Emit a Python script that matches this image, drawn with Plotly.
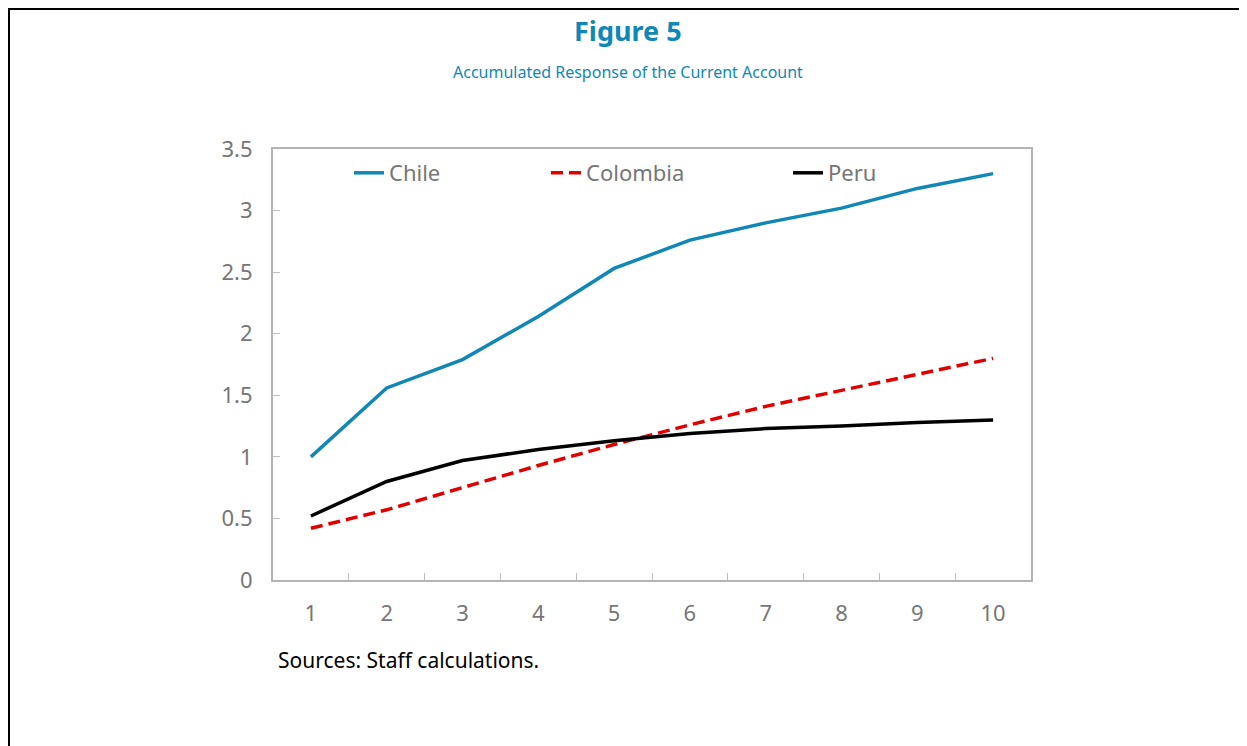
import plotly.graph_objects as go

periods = [1, 2, 3, 4, 5, 6, 7, 8, 9, 10]
chile = [1.00, 1.56, 1.79, 2.14, 2.53, 2.76, 2.90, 3.02, 3.18, 3.30]
colombia = [0.42, 0.57, 0.75, 0.93, 1.10, 1.26, 1.41, 1.54, 1.67, 1.80]
peru = [0.52, 0.80, 0.97, 1.06, 1.13, 1.19, 1.23, 1.25, 1.28, 1.30]
y_ticks = [0, 0.5, 1, 1.5, 2, 2.5, 3, 3.5]
y_tick_labels = ["0", "0.5", "1", "1.5", "2", "2.5", "3", "3.5"]

FONT = "Noto Sans"
OFF = 8  # page body margin
W, H = 1247 - OFF, 746 - OFF
L, R, T, B = 273, 1031, 149, 580  # plot area in screenshot pixels
pw, ph = R - L, B - T

def px(x):
    return (x - L) / pw

def py(y):
    return (B - y) / ph

GRAY_TXT = "#767676"

fig = go.Figure()
fig.add_trace(go.Scatter(x=[str(p) for p in periods], y=chile, name="Chile", mode="lines",
                         line=dict(color="#1187b5", width=3.5), legend="legend"))
fig.add_trace(go.Scatter(x=[str(p) for p in periods], y=colombia, name="Colombia", mode="lines",
                         line=dict(color="#e00000", width=3.5, dash="12px,6px"), legend="legend2"))
fig.add_trace(go.Scatter(x=[str(p) for p in periods], y=peru, name="Peru", mode="lines",
                         line=dict(color="#000000", width=3.5), legend="legend3"))

leg_common = dict(orientation="h", yanchor="middle", xanchor="left", y=py(173),
                  font=dict(family=FONT, size=22, color=GRAY_TXT),
                  bgcolor="rgba(0,0,0,0)", borderwidth=0, tracegroupgap=0)

fig.update_layout(
    width=W, height=H,
    margin=dict(l=L - OFF, r=W - (R - OFF), t=T - OFF, b=H - (B - OFF), pad=0),
    paper_bgcolor="white", plot_bgcolor="white",
    showlegend=True,
    legend=dict(x=px(349), **leg_common),
    legend2=dict(x=px(546), **leg_common),
    legend3=dict(x=px(788), **leg_common),
    xaxis=dict(type="category", tickson="boundaries", ticks="inside", ticklen=7,
               tickcolor="#bfbfbf", showline=True, linecolor="#b4b4b4", linewidth=2,
               mirror=True, showgrid=False, zeroline=False,
               tickfont=dict(family=FONT, size=22, color=GRAY_TXT),
               ticklabelstandoff=13, range=[-0.5, 9.5]),
    yaxis=dict(range=[0, 3.5], tickvals=y_ticks, ticktext=y_tick_labels,
               ticks="inside", ticklen=7, tickcolor="#bfbfbf",
               showline=True, linecolor="#b4b4b4", linewidth=2, mirror=True,
               showgrid=False, zeroline=False,
               tickfont=dict(family=FONT, size=22, color=GRAY_TXT),
               ticklabelstandoff=14),
)

# Title and subtitle
fig.add_annotation(text="<b>Figure 5</b>", x=px(628), y=py(30), xref="paper", yref="paper",
                   showarrow=False, font=dict(family=FONT, size=27, color="#1187b5"),
                   xanchor="center", yanchor="middle")
fig.add_annotation(text="Accumulated Response of the Current Account", x=px(628), y=py(72),
                   xref="paper", yref="paper", showarrow=False,
                   font=dict(family=FONT, size=16, color="#1187b5"),
                   xanchor="center", yanchor="middle")
fig.add_annotation(text="Sources: Staff calculations.", x=px(276), y=py(660),
                   xref="paper", yref="paper", showarrow=False,
                   font=dict(family=FONT, size=21, color="#000000"),
                   xanchor="left", yanchor="middle")

# Outer frame (top, left, right)
for x0, y0, x1, y1 in [(8, 9, 1240, 9), (9, 8, 9, 760), (1240, 8, 1240, 760)]:
    fig.add_shape(type="line", xref="paper", yref="paper",
                  x0=px(x0), y0=py(y0), x1=px(x1), y1=py(y1),
                  line=dict(color="black", width=2))

fig.write_html("out.html")
